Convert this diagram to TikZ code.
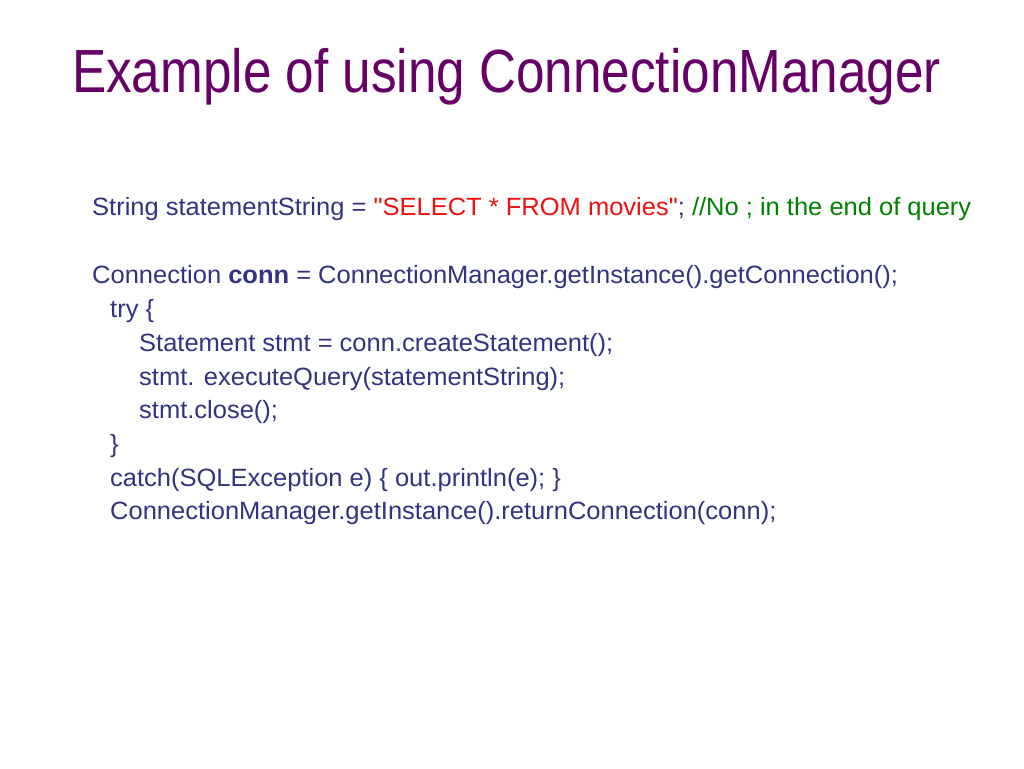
\documentclass[tikz,border=0pt]{standalone}
\usepackage{fontspec}
\newfontfamily\titlefont{Liberation Sans}[FakeStretch=0.84]
\newfontfamily\bodyfont{Liberation Sans}[FakeStretch=1.02]
\definecolor{titlecol}{RGB}{102,0,102}
\definecolor{bodycol}{RGB}{51,51,128}
\definecolor{strcol}{RGB}{238,17,17}
\definecolor{cmtcol}{RGB}{0,128,0}
\tikzset{
  titletext/.style={anchor=base west, inner sep=0pt, text=titlecol, font=\titlefont\fontsize{61pt}{61pt}\selectfont},
  codetext/.style={anchor=base west, inner sep=0pt, text=bodycol, font=\bodyfont\fontsize{25pt}{25pt}\selectfont}
}
\begin{document}
\begin{tikzpicture}[x=1pt,y=-1pt]
\useasboundingbox[fill=white] (0,0) rectangle (1024,768);
\node[titletext] (title) at (72,92) {Example of using ConnectionManager};
\node[codetext] (l1) at (92,215) {String statementString = \textcolor{strcol}{"SELECT * FROM movies"}; \textcolor{cmtcol}{//No ; in the end of query}};
\node[codetext] (l2) at (92,283) {Connection \textbf{conn} = ConnectionManager.getInstance().getConnection();};
\node[codetext] (l3) at (110,317) {try \{};
\node[codetext] (l4) at (139,351) {Statement stmt = conn.createStatement();};
\node[codetext] (l5) at (139,385) {stmt. executeQuery(statementString);};
\node[codetext] (l6) at (139,418) {stmt.close();};
\node[codetext] (l7) at (110,452) {\}};
\node[codetext] (l8) at (110,486) {catch(SQLException e) \{ out.println(e); \}};
\node[codetext] (l9) at (110,519) {ConnectionManager.getInstance().returnConnection(conn);};
\end{tikzpicture}
\end{document}
